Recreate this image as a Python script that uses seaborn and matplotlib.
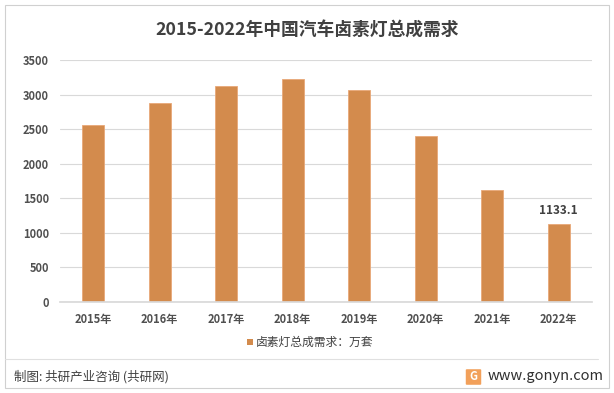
import matplotlib
matplotlib.use("Agg")
import matplotlib.pyplot as plt
import seaborn as sns
import pandas as pd
from matplotlib.patches import Rectangle, FancyBboxPatch

years = ["2015年", "2016年", "2017年", "2018年", "2019年", "2020年", "2021年", "2022年"]
demand = [2560, 2880, 3120, 3225, 3065, 2400, 1620, 1133.1]
yticks = [0, 500, 1000, 1500, 2000, 2500, 3000, 3500]
series_name = "卤素灯总成需求：万套"
title = "2015-2022年中国汽车卤素灯总成需求"

sns.set_theme(style="white")
plt.rcParams['font.family'] = ['Noto Sans CJK SC', 'DejaVu Sans']

df = pd.DataFrame({"year": years, "value": demand})

fig = plt.figure(figsize=(6.14, 3.93), dpi=100)
ax = fig.add_axes([60/614, 1-302/393, 532/614, 242/393])

bar_color = "#D38B4D"
sns.barplot(data=df, x="year", y="value", color=bar_color, width=0.33,
            saturation=1, ax=ax, edgecolor="#E8A878", linewidth=0.6)

tick_color = "#505050"
ax.set_ylim(0, 3500)
ax.set_yticks(yticks)
ax.set_yticklabels([str(v) for v in yticks], fontsize=8, color=tick_color, fontweight="bold")
for lbl in ax.get_xticklabels():
    lbl.set_fontweight("bold")
ax.tick_params(axis='x', labelsize=8, colors=tick_color, length=0, pad=8)
ax.tick_params(axis='y', length=0, pad=8)
ax.yaxis.grid(True, color="#d9d9d9", linewidth=0.8)
ax.set_axisbelow(True)
for s in ["top", "right", "left"]:
    ax.spines[s].set_visible(False)
ax.spines["bottom"].set_color("#d9d9d9")
ax.set_xlabel("")
ax.set_ylabel("")
ax.set_xlim(-0.5, len(years) - 0.5)

# label last bar
ax.text(len(years) - 1, demand[-1] + 90, f"{demand[-1]}", ha="center", va="bottom",
        fontsize=8.5, color="#404040", fontweight="bold")

fig.text(0.5, 1-31/393, title, ha="center", va="center", fontsize=12.8,
         fontweight="bold", color="#404040")

# legend
fig.patches.append(Rectangle((247/614, 1-345/393), 6/614, 6/393, transform=fig.transFigure,
                             facecolor=bar_color, edgecolor="none"))
fig.text(256/614, 1-342/393, series_name, ha="left", va="center", fontsize=8.5, color="#404040")

# border and separator
fig.patches.append(Rectangle((5/614, 5/393), 604/614, 383/393, transform=fig.transFigure,
                             fill=False, edgecolor="#d0d0d0", linewidth=0.8))
fig.add_artist(plt.Line2D([5/614, 598/614], [1-359/393, 1-359/393], color="#e0e0e0", linewidth=0.8))

fig.text(14/614, 1-377/393, "制图: 共研产业咨询 (共研网)", ha="left", va="center",
         fontsize=9, color="#404040")
# logo
fig.patches.append(FancyBboxPatch((467/614, 1-384/393), 13/614, 14/393, transform=fig.transFigure,
                                  boxstyle="round,pad=0.002", facecolor="#F2A05A", edgecolor="none"))
fig.text(473.5/614, 1-377/393, "G", ha="center", va="center", fontsize=8, color="white",
         fontweight="bold")
fig.text(488/614, 1-376/393, "www.gonyn.com", ha="left", va="center", fontsize=10.5, color="#303030")

fig.savefig("out.png", dpi=100)
